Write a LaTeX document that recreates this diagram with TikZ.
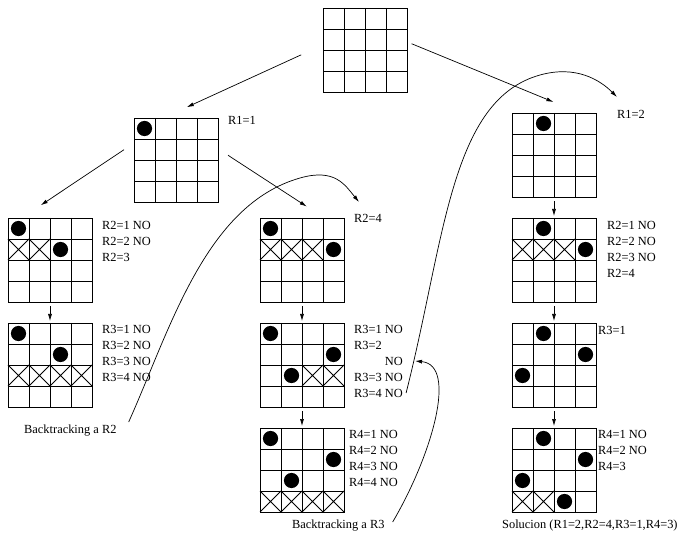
\documentclass[tikz,border=0pt]{standalone}
\usepackage{fontspec}
\setmainfont{Liberation Serif}
\usetikzlibrary{arrows.meta, calc}

% queen in cell (col,row) of a board, rows counted from the top
\newcommand{\dama}[3]{\fill ($(#1.north west)+(21*#2-10.5,21*#3-10.5)$) circle[radius=7.6pt];}
% crossed-out cell (col,row)
\newcommand{\tacha}[3]{\draw[line width=0.9pt] ($(#1.north west)+(21*#2-21,21*#3-21)$)
  -- ++(21,21) ++(-21,0) -- ++(21,-21);}

\begin{document}
\begin{tikzpicture}[
    x=1pt, y=-1pt,
    font=\fontsize{12.4pt}{15pt}\selectfont,
    board/.style={draw, line width=0.9pt, anchor=north west, minimum size=84pt,
                  inner sep=0pt, outer sep=0pt,
                  path picture={
                    \foreach \k in {1,2,3} {
                      \draw[line width=0.9pt] ($(path picture bounding box.north west)+(21*\k,0)$) -- ++(0,84);
                      \draw[line width=0.9pt] ($(path picture bounding box.north west)+(0,21*\k)$) -- ++(84,0);
                    }}},
    lbl/.style={anchor=west, inner sep=0pt, text height=8.2pt, text depth=0pt},
    arr/.style={-{Latex[length=7pt,width=4pt]}, line width=0.7pt}]

  \useasboundingbox (0,0) rectangle (680,534);

  % ---- empty board and first row ----
  \node[board] (top) at (323,8)   {};
  \node[board] (b1)  at (134,118) {};
  \node[board] (r1)  at (512,113) {};
  \dama{b1}{1}{1}
  \dama{r1}{2}{1}
  \node[lbl] (b1lbl) at (228,120) {R1=1};
  \node[lbl] (r1lbl) at (617,114) {R1=2};

  % ---- left column ----
  \node[board] (l2) at (8,218) {};
  \node[board] (l3) at (8,323) {};
  \dama{l2}{1}{1} \dama{l2}{3}{2}
  \foreach \c in {1,2} \tacha{l2}{\c}{2};
  \dama{l3}{1}{1} \dama{l3}{3}{2}
  \foreach \c in {1,2,3,4} \tacha{l3}{\c}{3};
  \foreach \txt [count=\n] in {R2=1 NO,R2=2 NO,R2=3}
    \node[lbl] (l2t\n) at (102,209+16*\n) {\txt};
  \foreach \txt [count=\n] in {R3=1 NO,R3=2 NO,R3=3 NO,R3=4 NO}
    \node[lbl] (l3t\n) at (102,313+16*\n) {\txt};

  % ---- middle column ----
  \node[board] (m2) at (260,218) {};
  \node[board] (m3) at (260,323) {};
  \node[board] (m4) at (260,428) {};
  \dama{m2}{1}{1} \dama{m2}{4}{2}
  \foreach \c in {1,2,3} \tacha{m2}{\c}{2};
  \dama{m3}{1}{1} \dama{m3}{4}{2} \dama{m3}{2}{3}
  \foreach \c in {3,4} \tacha{m3}{\c}{3};
  \dama{m4}{1}{1} \dama{m4}{4}{2} \dama{m4}{2}{3}
  \foreach \c in {1,2,3,4} \tacha{m4}{\c}{4};
  \node[lbl] (m2t) at (354,218.5) {R2=4};
  \foreach \txt [count=\n] in {R3=1 NO,R3=2,\phantom{R3=3 }NO,R3=3 NO,R3=4 NO}
    \node[lbl] (m3t\n) at (354,313+16*\n) {\txt};
  \foreach \txt [count=\n] in {R4=1 NO,R4=2 NO,R4=3 NO,R4=4 NO}
    \node[lbl] (m4t\n) at (349,418+16*\n) {\txt};

  % ---- right column ----
  \node[board] (r2) at (512,218) {};
  \node[board] (r3) at (512,323) {};
  \node[board] (r4) at (512,428) {};
  \dama{r2}{2}{1} \dama{r2}{4}{2}
  \foreach \c in {1,2,3} \tacha{r2}{\c}{2};
  \dama{r3}{2}{1} \dama{r3}{4}{2} \dama{r3}{1}{3}
  \dama{r4}{2}{1} \dama{r4}{4}{2} \dama{r4}{1}{3} \dama{r4}{3}{4}
  \foreach \c in {1,2} \tacha{r4}{\c}{4};
  \foreach \txt [count=\n] in {R2=1 NO,R2=2 NO,R2=3 NO,R2=4}
    \node[lbl] (r2t\n) at (607,209+16*\n) {\txt};
  \node[lbl] (r3t) at (598,330) {R3=1};
  \foreach \txt [count=\n] in {R4=1 NO,R4=2 NO,R4=3}
    \node[lbl] (r4t\n) at (598,418+16*\n) {\txt};

  \node[lbl] (bt2) at (24,429)  {Backtracking a R2};
  \node[lbl] (bt3) at (292,524) {Backtracking a R3};
  \node[lbl] (sol) at (502,524) {Solucion (R1=2,R2=4,R3=1,R4=3)};

  % tree arrows
  \draw[arr, shorten <=24pt, shorten >=26pt] (top.173) -- (b1.107);
  \draw[arr, shorten <=5pt,  shorten >=29pt] (top.11)  -- (r1.58);
  \draw[arr, shorten <=12pt, shorten >=23pt] (b1.158)  -- (l2.124);
  \draw[arr, shorten <=12pt, shorten >=21pt] (b1.15)   -- (m2.62);
  \draw[arr, shorten <=4pt, shorten >=2pt] (l2) -- (l3);
  \draw[arr, shorten <=4pt, shorten >=2pt] (m2) -- (m3);
  \draw[arr, shorten <=4pt, shorten >=2pt] (m3) -- (m4);
  \draw[arr, shorten <=4pt, shorten >=2pt] (r1) -- (r2);
  \draw[arr, shorten <=4pt, shorten >=2pt] (r2) -- (r3);
  \draw[arr, shorten <=4pt, shorten >=2pt] (r3) -- (r4);

  % backtracking curves
  \draw[arr] ([shift={(12pt,7pt)}]bt2.east) .. controls (170,330) and (205,205) .. (300,178)
             .. controls (335,168) and (345,185) .. ([shift={(5pt,16.5pt)}]m2t.west);
  \draw[arr] ([xshift=3pt]m3t5.east) .. controls (445,240) and (450,100) .. (540,75)
             .. controls (576,65) and (600,80) .. ([yshift=17pt]r1lbl.west);
  \draw[arr] ([shift={(8pt,2pt)}]bt3.east) .. controls (432,455) and (458,365) .. ([xshift=12pt]m3t3.east);
\end{tikzpicture}
\end{document}
